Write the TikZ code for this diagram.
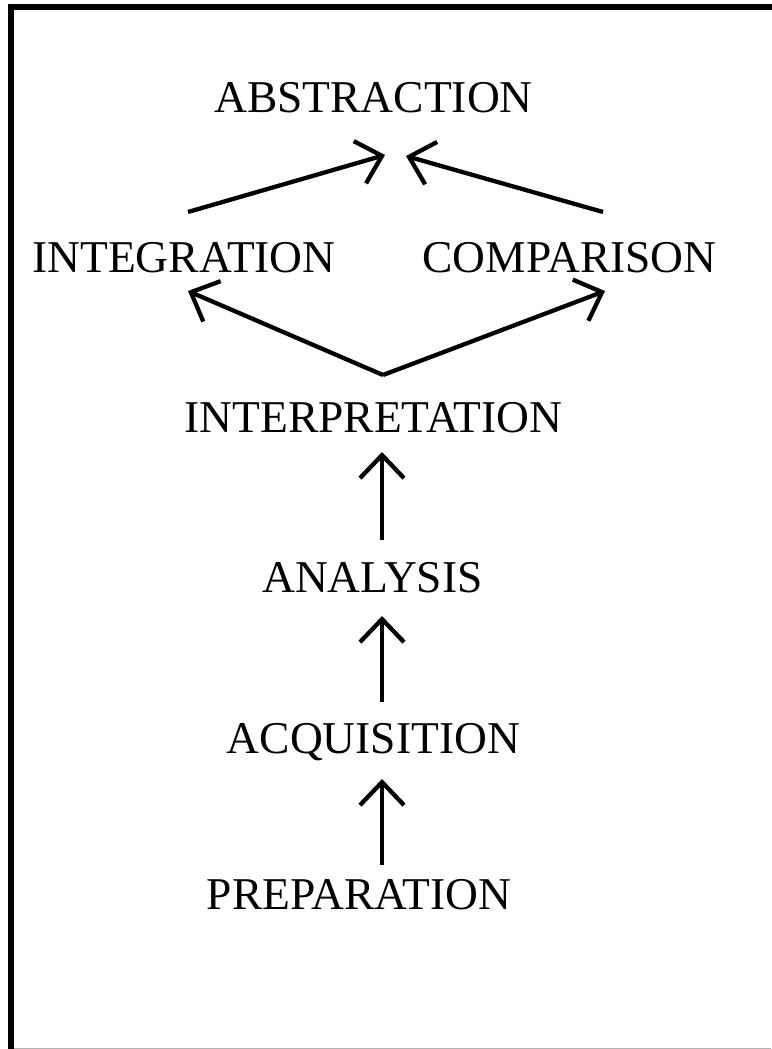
\documentclass[tikz,border=0pt]{standalone}
\usepackage{fontspec}
\setmainfont{Liberation Serif}
\usetikzlibrary{arrows.meta}
\begin{document}
\begin{tikzpicture}[x=1pt,y=-1pt,
  lbl/.style={anchor=base,inner sep=0pt,font=\fontsize{45.5}{52}\selectfont},
  conn/.style={line width=4.3pt,-{Straight Barb[length=23pt,width=44pt]}}]
\useasboundingbox (0,0) rectangle (771,1049);
% frame
\draw[line width=6pt] (11,1060) -- (11,7) -- (790,7);
\draw[line width=1.2pt,black!30] (14,1048.4) -- (771,1048.4);
% labels
\node[lbl] (abs) at (373.5,112) {ABSTRACTION};
\node[lbl] (integ) at (184,272) {INTEGRATION};
\node[lbl] (comp) at (569.5,272) {COMPARISON};
\node[lbl] (interp) at (373.5,432) {INTERPRETATION};
\node[lbl] (anal) at (372.5,592) {ANALYSIS};
\node[lbl] (acq) at (373.5,753) {ACQUISITION};
\node[lbl] (prep) at (359,909) {PREPARATION};
% connector end points
\coordinate (integ-out) at (188,212);
\coordinate (comp-out) at (603,212);
\coordinate (abs-inl) at (385,155);
\coordinate (abs-inr) at (406,156);
\coordinate (interp-out) at (383,375);
\coordinate (integ-in) at (188,291);
\coordinate (comp-in) at (605,291);
\coordinate (interp-in) at (382,452);
\coordinate (anal-out) at (382,540);
\coordinate (anal-in) at (382,616);
\coordinate (acq-out) at (382,702);
\coordinate (acq-in) at (382,779);
\coordinate (prep-out) at (382,865);
% connectors
\draw[conn] (integ-out) -- (abs-inl);
\draw[conn] (comp-out) -- (abs-inr);
\draw[conn] (interp-out) -- (integ-in);
\draw[conn] (interp-out) -- (comp-in);
\draw[conn] (anal-out) -- (interp-in);
\draw[conn] (acq-out) -- (anal-in);
\draw[conn] (prep-out) -- (acq-in);
\end{tikzpicture}
\end{document}
